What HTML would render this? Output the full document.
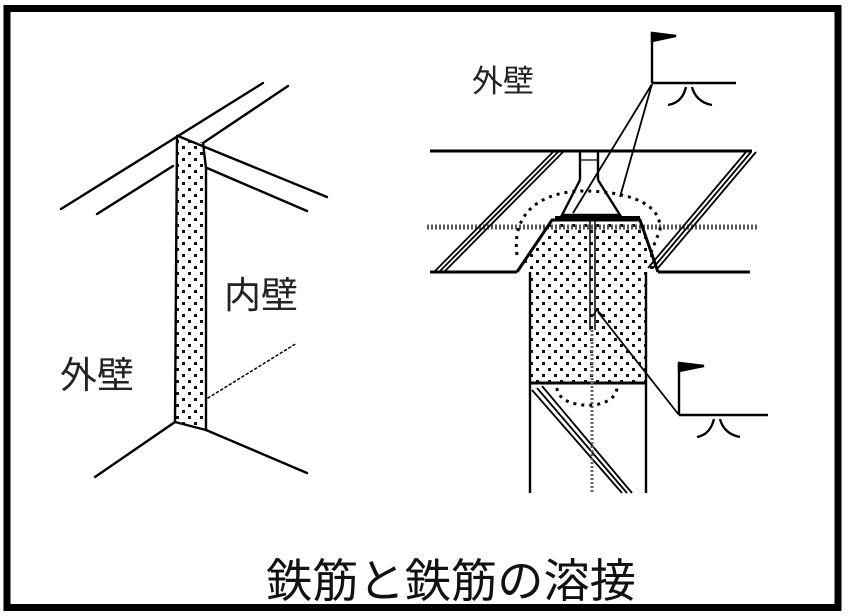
<!DOCTYPE html>
<html><head><meta charset="utf-8"><style>
html,body{margin:0;padding:0;background:#fff;}
svg{display:block;}
</style></head><body>
<svg width="848" height="616" viewBox="0 0 848 616" xmlns="http://www.w3.org/2000/svg">
<defs>
<pattern id="dots" width="12" height="12" patternUnits="userSpaceOnUse">
<rect x="2" y="2" width="3" height="3" fill="#111"/>
<rect x="8" y="8" width="3" height="3" fill="#111"/>
</pattern>
</defs>
<rect x="0" y="0" width="848" height="616" fill="#fff"/>
<rect x="7" y="8.5" width="831" height="599" fill="none" stroke="#000" stroke-width="7"/>

<g stroke="#000" stroke-width="2.4" fill="none" stroke-linecap="round">
<polygon points="178,137 203,143 206,170 206,430 176,422 177,137" fill="url(#dots)" stroke="none"/>
<line x1="61" y1="209" x2="263" y2="83"/>
<line x1="97" y1="214" x2="173" y2="166"/>
<line x1="203" y1="143" x2="288" y2="86"/>
<line x1="178" y1="136" x2="327" y2="197"/>
<line x1="207" y1="168" x2="307" y2="211"/>
<line x1="177" y1="136" x2="175" y2="422"/>
<line x1="206" y1="168" x2="206" y2="430"/>
<line x1="203" y1="143" x2="206" y2="168"/>
<line x1="175" y1="422" x2="95" y2="477"/>
<line x1="175" y1="422" x2="206" y2="430"/>
<line x1="206" y1="430" x2="307" y2="473"/>
<line x1="208" y1="398" x2="297" y2="343" stroke-width="1.5" stroke-dasharray="2,3"/>
</g>
<g font-family="'Liberation Sans','Noto Sans CJK JP',sans-serif" fill="#222">
<text x="224" y="308" font-size="37">内壁</text>
<text x="60" y="388" font-size="37">外壁</text>
<text x="472" y="92" font-size="31">外壁</text>
<text x="266" y="597" font-size="46" fill="#111" textLength="370" lengthAdjust="spacingAndGlyphs">鉄筋と鉄筋の溶接</text>
</g>

<g stroke="#000" stroke-width="2.4" fill="none">
<polygon points="530,272 517,272 552,220 640,220 658,272 646,272 646,383 530,383" fill="url(#dots)" stroke="none"/>
<line x1="430" y1="151" x2="752" y2="151" stroke-width="3"/>
<line x1="430" y1="272" x2="517" y2="272" stroke-width="3"/>
<line x1="658" y1="272" x2="750" y2="272" stroke-width="3"/>
<line x1="427" y1="227" x2="758" y2="227" stroke-width="5" stroke-dasharray="2,2" stroke="#555"/>
<polyline points="517,272 552,220 640,220 658,272" stroke-width="3"/>
<line x1="530" y1="272" x2="530" y2="493"/>
<line x1="646" y1="272" x2="646" y2="493"/>
<line x1="530" y1="383" x2="646" y2="383" stroke-width="3"/>
<g stroke-width="1.8">
<line x1="435" y1="271" x2="553" y2="152"/><line x1="440" y1="271" x2="558" y2="152"/><line x1="445" y1="271" x2="563" y2="152"/>
<line x1="648" y1="268" x2="746" y2="152"/><line x1="653" y1="268" x2="751" y2="152"/><line x1="658" y1="268" x2="756" y2="152"/>
<line x1="532" y1="390" x2="622" y2="493"/><line x1="537" y1="388" x2="627" y2="493"/><line x1="542" y1="386" x2="632" y2="493"/>
</g>
<line x1="580" y1="151" x2="580" y2="180"/>
<line x1="598" y1="151" x2="598" y2="180"/>
<line x1="580" y1="160" x2="598" y2="160" stroke-width="1.2"/>
<polyline points="580,180 562,215 620,215 598,180"/>
<line x1="555" y1="218" x2="640" y2="218" stroke-width="4"/>
<line x1="590" y1="220" x2="590" y2="330" stroke-width="1.5"/>
<line x1="595" y1="220" x2="595" y2="330" stroke-width="1.5"/>
<line x1="592" y1="330" x2="592" y2="493" stroke-width="3" stroke-dasharray="2,2" stroke="#666"/>
<path d="M517,255 C510,200 560,190 588,191 C620,192 662,200 660,230 L650,255" stroke-width="3" stroke-dasharray="3,5"/>
<path d="M557,388 C558,410 615,412 617,388" stroke-width="3" stroke-dasharray="3,5"/>
<line x1="652" y1="33" x2="652" y2="83"/>
<polygon points="652,33 676,36 652,41" fill="#000"/>
<line x1="652" y1="83" x2="736" y2="83"/>
<path d="M668,105 C680,103 684,95 686,87 M692,87 C694,95 700,103 712,105"/>
<line x1="652" y1="84" x2="573" y2="213" stroke-width="1.8"/>
<line x1="652" y1="84" x2="620" y2="197" stroke-width="1.8"/>
<line x1="679" y1="363" x2="679" y2="415"/>
<polygon points="679,363 704,366 679,371" fill="#000"/>
<line x1="679" y1="415" x2="768" y2="415"/>
<path d="M697,437 C708,435 712,427 714,419 M720,419 C722,427 728,435 740,437"/>
<line x1="679" y1="415" x2="598" y2="312" stroke-width="1.8"/>
<polyline points="592,317 597,310 604,317" stroke-width="1.5"/>
</g>
</svg>
</body></html>
